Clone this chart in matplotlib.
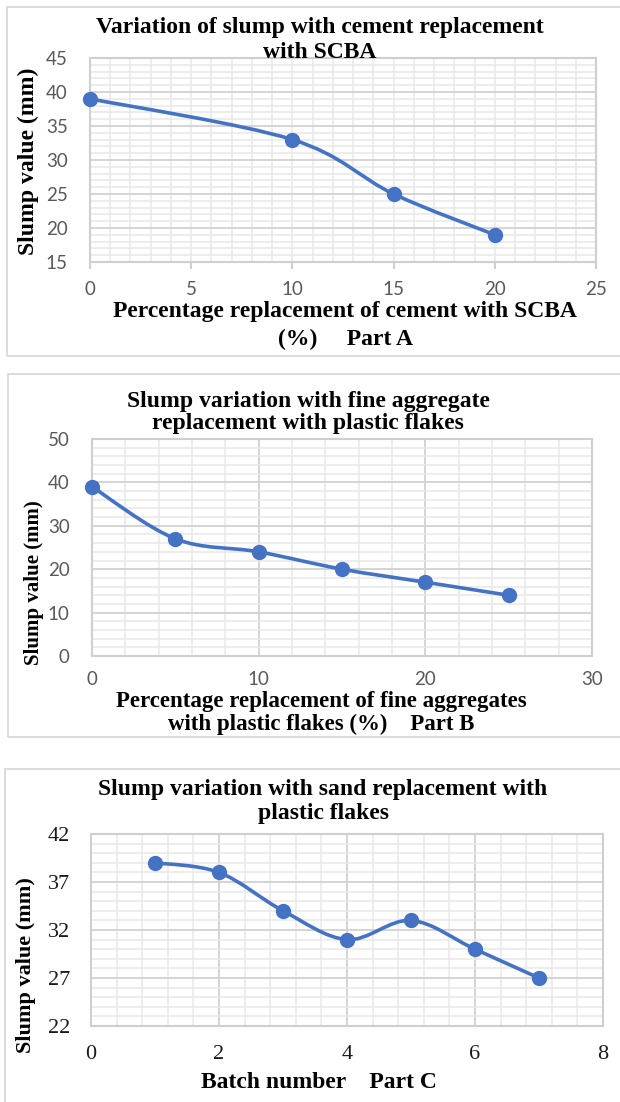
import numpy as np
import matplotlib.pyplot as plt
from matplotlib.path import Path
from matplotlib.patches import PathPatch, Rectangle
from matplotlib.ticker import MultipleLocator

W, H = 620, 1102

# Part A - cement replaced with SCBA
a_pct = [0, 10, 15, 20]
a_slump = [39, 33, 25, 19]
# Part B - fine aggregate replaced with plastic flakes
b_pct = [0, 5, 10, 15, 20, 25]
b_slump = [39, 27, 24, 20, 17, 14]
# Part C - sand replacement, per batch
c_batch = [1, 2, 3, 4, 5, 6, 7]
c_slump = [39, 38, 34, 31, 33, 30, 27]

BLUE = '#4472C4'
SERIF = 'Liberation Serif'
plt.rcParams['font.family'] = ['Lato', 'DejaVu Sans']

fig = plt.figure(figsize=(W / 100, H / 100), dpi=100)


def px_axes(left, top, right, bottom):
    return fig.add_axes([left / W, 1 - bottom / H, (right - left) / W, (bottom - top) / H])


def box(x0, y0, x1, y1):
    fig.patches.append(Rectangle((x0 / W, 1 - y1 / H), (x1 - x0) / W, (y1 - y0) / H,
                                 transform=fig.transFigure, fill=False,
                                 ec='#d9d9d9', lw=1.3))


def txt(x, y, s, size=17, rot=0):
    fig.text(x / W, 1 - y / H, s, ha='center', va='center', fontsize=size,
             fontweight='bold', family=SERIF, rotation=rot)


def smooth_path(x, y):
    # excel style smoothed line: catmull-rom turned into bezier segments
    pts = np.column_stack([x, y]).astype(float)
    p = np.vstack([pts[0], pts, pts[-1]])
    verts = [pts[0]]
    codes = [Path.MOVETO]
    for i in range(1, len(p) - 2):
        c1 = p[i] + (p[i + 1] - p[i - 1]) / 6
        c2 = p[i + 1] - (p[i + 2] - p[i]) / 6
        verts += [c1, c2, p[i + 1]]
        codes += [Path.CURVE4] * 3
    return Path(verts, codes)


def draw(ax, x, y):
    ax.add_patch(PathPatch(smooth_path(x, y), fc='none', ec=BLUE, lw=2.6,
                           capstyle='round', joinstyle='round', clip_on=False, zorder=3))
    ax.plot(x, y, 'o', color=BLUE, ms=10, clip_on=False, zorder=4)


def style(ax, xmaj, xmin, ymaj, ymin, vmajor):
    ax.xaxis.set_major_locator(MultipleLocator(xmaj))
    ax.xaxis.set_minor_locator(MultipleLocator(xmin))
    ax.yaxis.set_major_locator(MultipleLocator(ymaj))
    ax.yaxis.set_minor_locator(MultipleLocator(ymin))
    ax.grid(which='minor', color='#e8e8e8', lw=1.1)
    ax.grid(which='major', axis='y', color='#d4d4d4', lw=1.4)
    if vmajor:
        ax.grid(which='major', axis='x', color='#d4d4d4', lw=1.4)
    else:
        ax.grid(which='major', axis='x', color='#e8e8e8', lw=1.1)
    ax.set_axisbelow(True)
    for s in ax.spines.values():
        s.set_color('#cfcfcf')
        s.set_linewidth(1.5)
    ax.tick_params(which='both', length=0, labelsize=13.5, labelcolor='#595959')


# ---------- Part A ----------
box(7, 7, 640, 356)
axA = px_axes(90, 58, 596, 262)
axA.set_xlim(0, 25)
axA.set_ylim(15, 45)
style(axA, 5, 1, 5, 1, False)
axA.tick_params(axis='x', which='major', length=5, width=1.5, color='#cfcfcf', pad=9)
axA.tick_params(axis='y', pad=16)
draw(axA, a_pct, a_slump)
txt(320, 27, 'Variation of slump with cement replacement')
txt(320, 52, 'with SCBA')
txt(345, 312, 'Percentage replacement of cement with SCBA')
txt(346, 339, '(%)     Part A')
txt(28, 161, 'Slump value (mm)', size=17, rot=90)

# ---------- Part B ----------
box(8, 374, 640, 737)
axB = px_axes(92, 439, 592, 656)
axB.set_xlim(0, 30)
axB.set_ylim(0, 50)
style(axB, 10, 2, 10, 2, True)
axB.tick_params(axis='x', pad=11)
axB.tick_params(axis='y', pad=16)
draw(axB, b_pct, b_slump)
txt(308, 401, 'Slump variation with fine aggregate')
txt(308, 423, 'replacement with plastic flakes')
txt(321, 702, 'Percentage replacement of fine aggregates', size=16.5)
txt(321, 724, 'with plastic flakes (%)    Part B', size=16.5)
txt(34, 583, 'Slump value (mm)', size=15, rot=90)

# ---------- Part C ----------
box(5, 769, 640, 1120)
axC = px_axes(91, 834, 603, 1026)
axC.set_xlim(0, 8)
axC.set_ylim(22, 42)
style(axC, 2, 0.4, 5, 1, True)
axC.set_yticks(np.arange(22, 43, 5))
axC.tick_params(axis='x', pad=14, labelsize=16, labelcolor='#1a1a1a')
axC.tick_params(axis='y', pad=15, labelsize=16, labelcolor='#1a1a1a')
for lbl in axC.get_xticklabels() + axC.get_yticklabels():
    lbl.set_fontfamily(SERIF)
draw(axC, c_batch, c_slump)
txt(323, 789, 'Slump variation with sand replacement with')
txt(324, 814, 'plastic flakes')
txt(319, 1082, 'Batch number    Part C')
txt(26, 965, 'Slump value (mm)', size=16, rot=90)

fig.savefig('out.png', dpi=100)
